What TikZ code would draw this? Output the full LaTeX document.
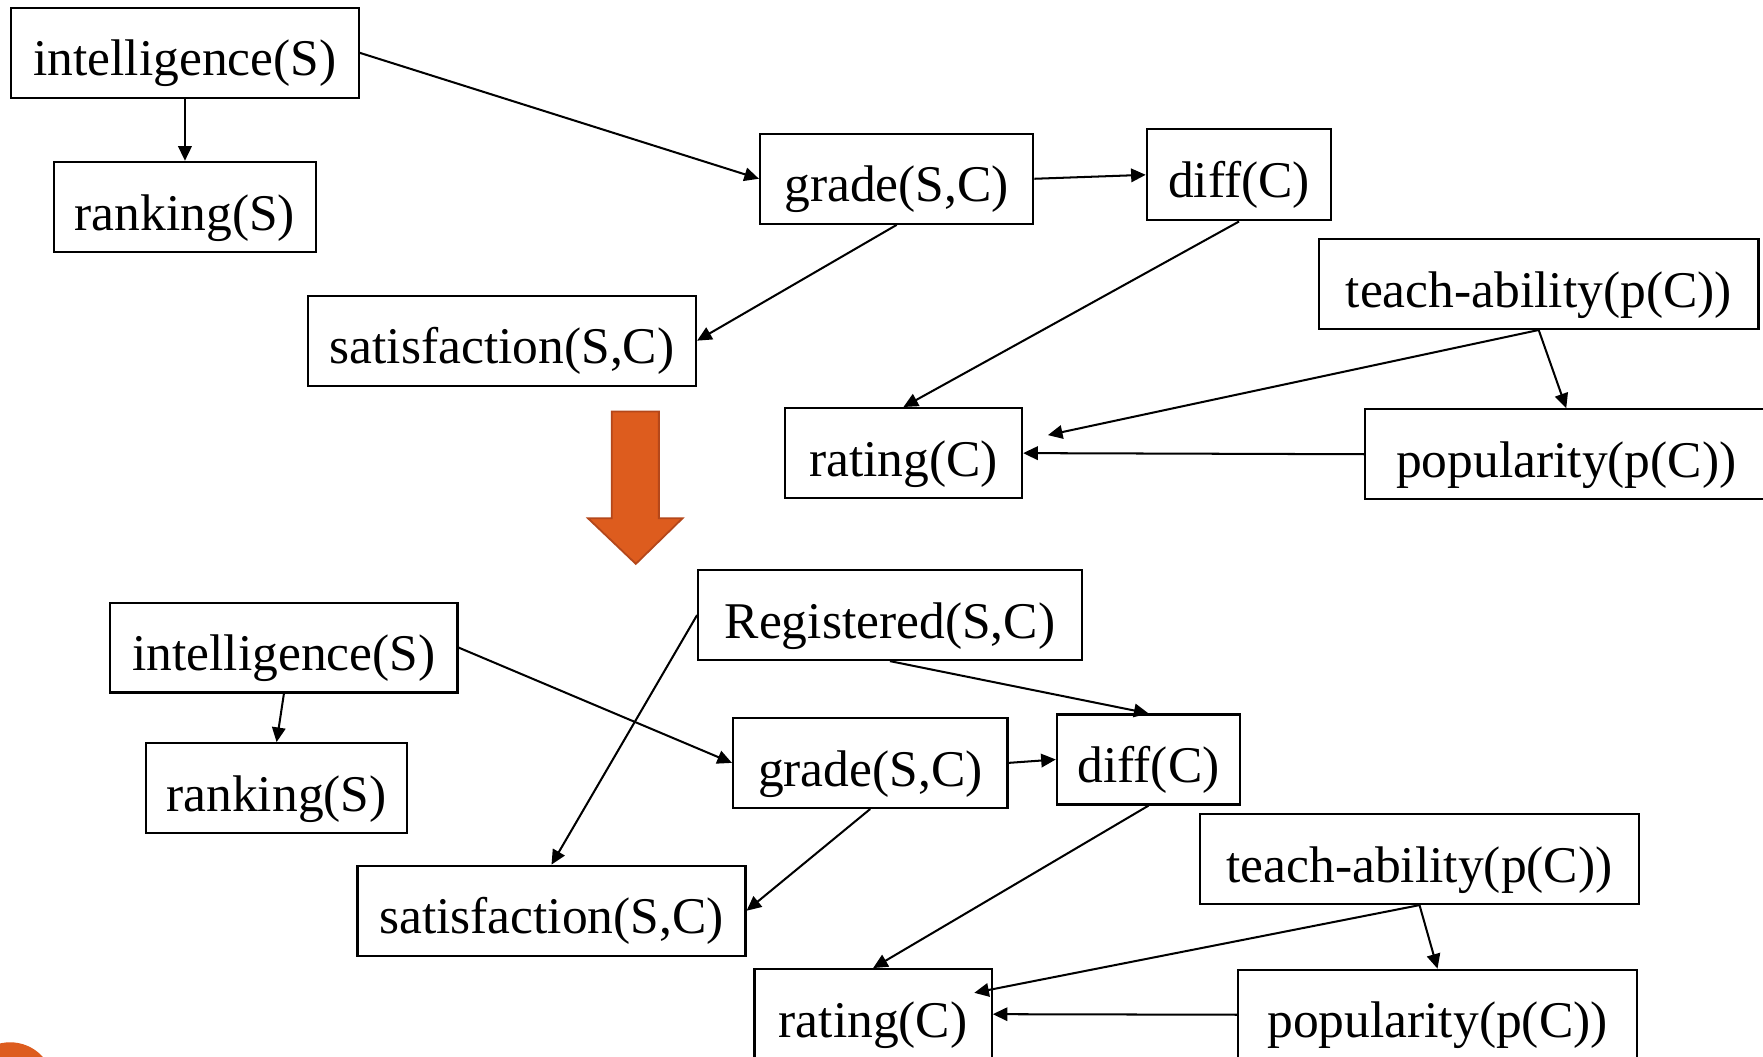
\documentclass[tikz,border=0pt]{standalone}
\usepackage{fontspec}
\setmainfont{Liberation Serif}
\usetikzlibrary{arrows.meta}
\definecolor{slideorange}{HTML}{DD5C1E}
\definecolor{slideorangedark}{HTML}{B4471A}
\begin{document}
\begin{tikzpicture}[x=0.5pt,y=-0.5pt,
  var/.style={draw=black, line width=1pt, inner sep=0pt, minimum height=40pt,
              text height=23pt, text depth=2.4pt,
              font=\fontsize{22.9}{27}\selectfont},
  link/.style={line width=0.9pt, -{Triangle[length=6.5pt,width=6pt]}},
]
\clip (0,0) rectangle (1568,940);
\fill[white] (0,0) rectangle (1568,940);

% ---------- network before adding Registered ----------
\node[var, minimum width=154.5pt] (int1)    at (164.5,47)    {intelligence(S)};
\node[var, minimum width=116.5pt] (rank1)   at (164.5,184)   {ranking(S)};
\node[var, minimum width=121.5pt] (grade1)  at (797.5,159)   {grade(S,C)};
\node[var, minimum width=82pt, minimum height=40.5pt] (diff1) at (1102,155.5) {diff(C)};
\node[var, minimum width=172.5pt] (sat1)    at (446.5,303)   {satisfaction(S,C)};
\node[var, minimum width=195.5pt] (teach1)  at (1368.5,252.5) {teach-ability(p(C))};
\node[var, minimum width=105.5pt] (rating1) at (803.5,403)   {rating(C)};
\node[var, minimum width=179pt]   (pop1)    at (1393,404)    {popularity(p(C))};

\draw[link] (int1.south)   -- (rank1.north);
\draw[link] (int1.east)    -- (grade1.west);
\draw[link] (grade1.east)  -- (diff1.west);
\draw[link] (grade1.south) -- (sat1.east);
\draw[link] (diff1.south)  -- (rating1.north);
\draw[link] (teach1.south) -- ([shift={(22,-16)}]rating1.east);
\draw[link] (teach1.south) -- (pop1.north);
\draw[link] (pop1.west)    -- (rating1.east);

% ---------- transition arrow ----------
\draw[fill=slideorange, draw=slideorangedark, line width=0.8pt, line join=miter]
  (544,366) -- (586,366) -- (586,461) -- (607,461) -- (565.5,501.5)
  -- (523,461) -- (544,461) -- cycle;

% ---------- network with Registered ----------
\node[var, minimum width=170.5pt] (reg)     at (791.5,547)   {Registered(S,C)};
\node[var, minimum width=154.5pt] (int2)    at (252.5,576)   {intelligence(S)};
\node[var, minimum width=116pt]   (rank2)   at (246,701)     {ranking(S)};
\node[var, minimum width=122pt]   (grade2)  at (774,678.5)   {grade(S,C)};
\node[var, minimum width=81.5pt]  (diff2)   at (1021.5,675.5) {diff(C)};
\node[var, minimum width=172.5pt] (sat2)    at (490.5,810)   {satisfaction(S,C)};
\node[var, minimum width=195.5pt] (teach2)  at (1262.5,764)  {teach-ability(p(C))};
\node[var, minimum width=105.5pt] (rating2) at (776.5,902)   {rating(C)};
\node[var, minimum width=177.5pt] (pop2)    at (1278.5,902.5) {popularity(p(C))};

\draw[link] (int2.south)   -- (rank2.north);
\draw[link] (int2.east)    -- (grade2.west);
\draw[link] (reg.west)     -- (sat2.north);
\draw[link] (reg.south)    -- (diff2.north);
\draw[link] (grade2.east)  -- (diff2.west);
\draw[link] (grade2.south) -- (sat2.east);
\draw[link] (diff2.south)  -- (rating2.north);
\draw[link] (teach2.south) -- ([shift={(-16.5,-19)}]rating2.east);
\draw[link] (teach2.south) -- (pop2.north);
\draw[link] (pop2.west)    -- (rating2.east);

% ---------- corner ornament ----------
\fill[slideorange] (9,966) circle[radius=39];
\end{tikzpicture}
\end{document}
